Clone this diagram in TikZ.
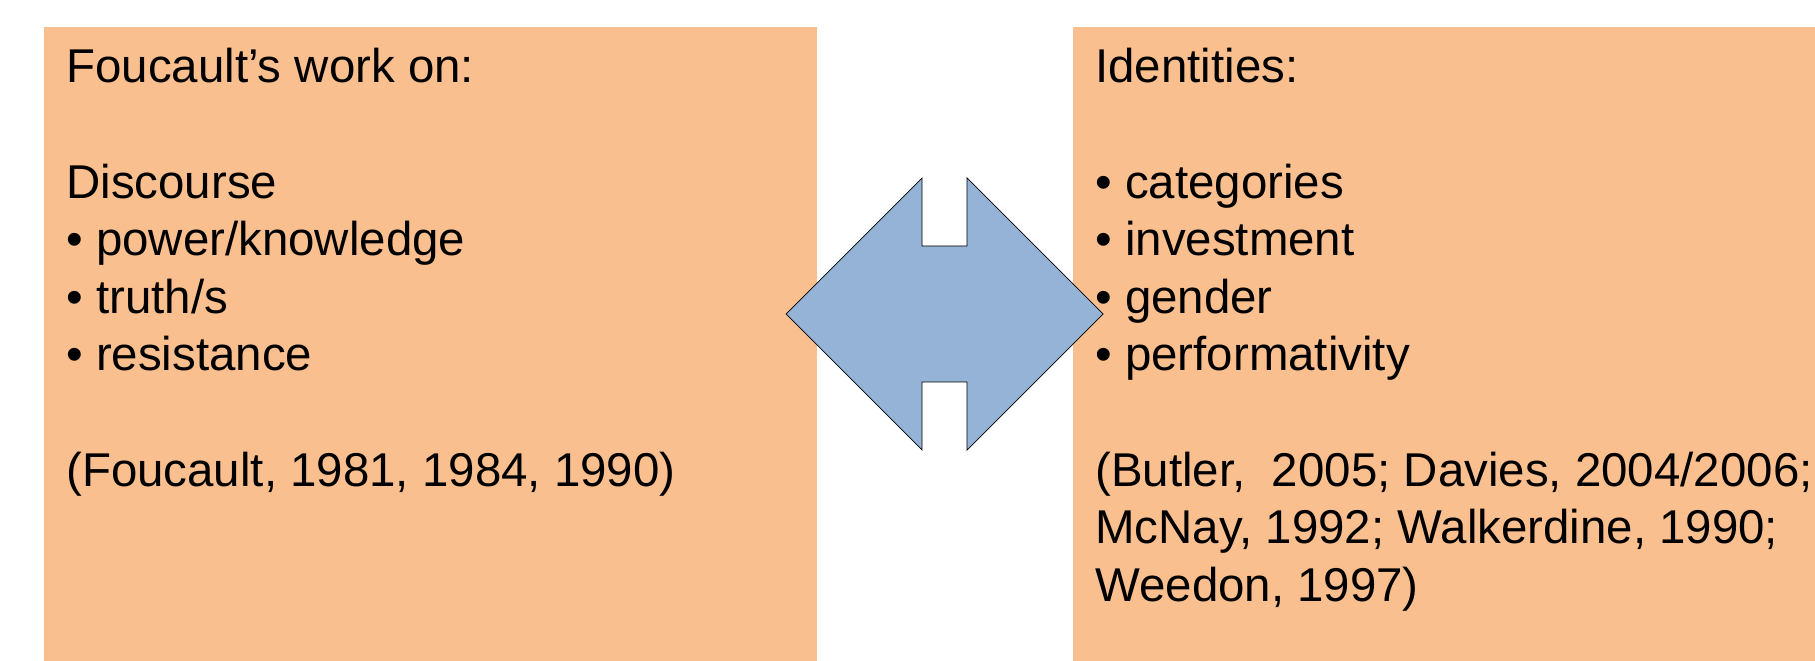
\documentclass[tikz,border=0pt]{standalone}
\usepackage{fontspec}
\setmainfont{Liberation Sans}
\usepackage{tikz}
\usetikzlibrary{calc}
\definecolor{boxfill}{HTML}{F9BF8F}
\definecolor{arrowfill}{HTML}{95B3D7}
\tikzstyle{panel}=[fill=boxfill,draw=none,inner sep=0pt]
\tikzstyle{twoway}=[fill=arrowfill,draw=black,line width=0.4pt,line join=miter]
\tikzstyle{entry}=[anchor=base west,inner sep=0pt,font=\fontsize{27}{33}\selectfont]

\begin{document}
\begin{tikzpicture}[x=0.02cm, y=-0.02cm]

    \useasboundingbox (0,0) rectangle (1815,661);

    \def\lx{66};
    \def\rx{1095};
    \def\top{83};
    \def\gap{57.6};

    \node[panel, minimum width=15.46cm, minimum height=12.68cm, anchor=north west] (left) at (44,27) {};
    \node[panel, minimum width=14.84cm, minimum height=12.68cm, anchor=north west] (right) at (1073,27) {};

    % double arrow between the panels
    \draw[twoway] (786,314) -- (922,178) -- (922,246) -- (967,246) -- (967,178)
        -- (1103,314) -- (967,450) -- (967,382) -- (922,382) -- (922,450) -- cycle;

    \foreach \k/\txt in {0/{Foucault’s work on:}, 2/Discourse, 3/{• power/knowledge},
        4/{• truth/s}, 5/{• resistance}, 7/{(Foucault, 1981, 1984, 1990)}}
        \node[entry] (l\k) at (\lx, \top+\k*\gap) {\txt};

    \foreach \k/\txt in {0/Identities:, 2/{• categories}, 3/{• investment}, 4/{• gender},
        5/{• performativity}, 7/{(Butler,\ \ 2005; Davies, 2004/2006;},
        8/{McNay, 1992; Walkerdine, 1990;}, 9/{Weedon, 1997)}}
        \node[entry] (r\k) at (\rx, \top+\k*\gap) {\txt};

\end{tikzpicture}
\end{document}
